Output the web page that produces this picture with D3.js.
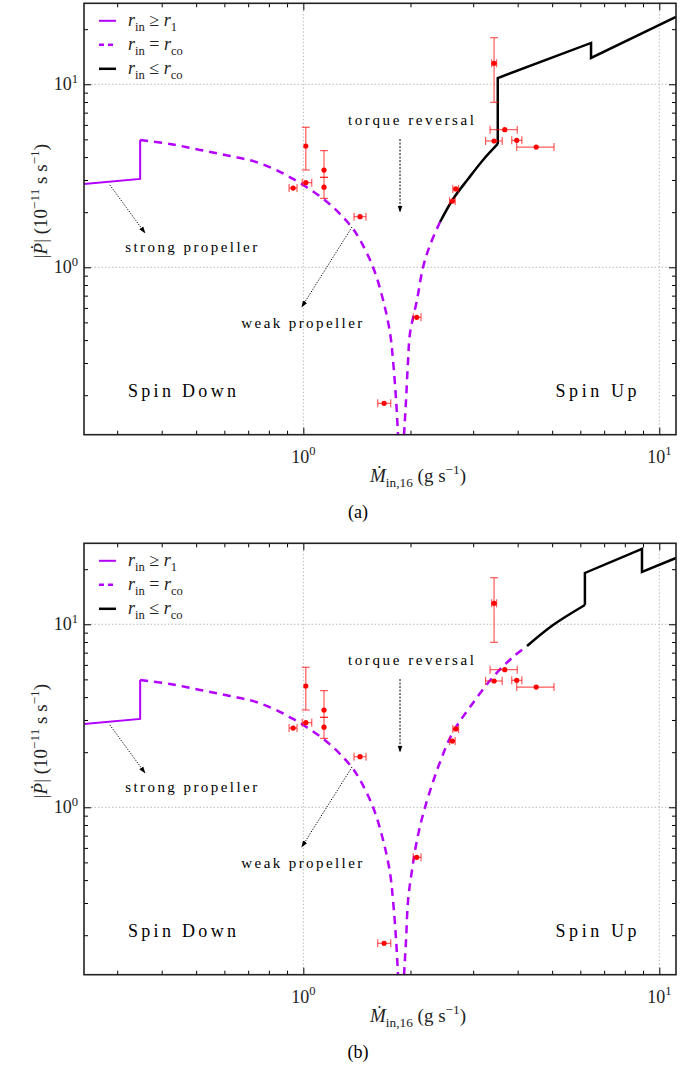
<!DOCTYPE html>
<html><head><meta charset="utf-8">
<script src="https://cdn.jsdelivr.net/npm/d3@7"></script>
<style>body{margin:0;background:#fff}svg{display:block}
svg text{font-family:"Liberation Serif","Times New Roman",Tinos,"DejaVu Serif","Noto Serif",Times,serif;}</style>
</head><body><div id="chart"></div>
<script>
// ---------- data ----------
const xDomain = [0.242, 11.14];
const yDomain = [0.1217, 27.7];
const xMajor = [1, 10];
const yMajor = [1, 10];
const xMinor = [0.3,0.4,0.5,0.6,0.7,0.8,0.9,2,3,4,5,6,7,8,9];
const yMinor = [0.2,0.3,0.4,0.5,0.6,0.7,0.8,0.9,2,3,4,5,6,7,8,9,20];

// r_in >= r_1 (solid purple)
const strongM = [0.242, 0.348, 0.348];
const strongP = [2.85, 3.04, 4.96];
// r_in = r_co, left (spin-down) branch
const weakLM = [0.348,0.422,0.513,0.622,0.756,0.936,1.166,1.353,1.443,1.570,1.675,1.752,1.786,1.822,1.845];
const weakLP = [4.96,4.72,4.375,4.06,3.70,3.04,2.275,1.70,1.41,1.00,0.663,0.4375,0.311,0.188,0.121];
// panel (a): right branch + r_in <= r_co (smooth part, then stepped part)
const weakRM_a = [1.918,1.943,1.969,1.994,2.086,2.169,2.27,2.421];
const weakRP_a = [0.121,0.188,0.311,0.4375,0.663,1.0,1.324,1.768];
const upCurveM_a = [2.421,2.634,2.902,3.198,3.517];
const upCurveP_a = [1.768,2.361,3.037,3.858,4.718];
const upStepM_a = [3.517,3.517,6.43,6.43,11.14];
const upStepP_a = [4.718,10.82,16.82,13.92,23.33];
// panel (b)
const weakRM_b = [1.918,1.943,1.969,2.020,2.086,2.197,2.421,2.634,2.94,3.41,3.88,4.25];
const weakRP_b = [0.121,0.188,0.311,0.4544,0.663,1.0,1.768,2.58,3.53,5.15,6.62,7.61];
const upCurveM_b = [4.25,5.03,6.18];
const upCurveP_b = [7.61,9.91,12.75];
const upStepM_b = [6.18,6.18,8.94,8.94,11.14];
const upStepP_b = [12.75,19.07,25.8,19.31,23.03];

// observations
const obsM   = [0.936,1.016,1.016,1.143,1.143,1.443,1.686,2.082,2.68,2.622,3.434,3.434,3.68,3.976,4.51];
const obsP   = [2.71,2.90,4.60,3.40,2.74,1.89,0.1806,0.533,2.68,2.30,13.02,4.90,5.65,4.94,4.54];
const obsMlo = [0.912,0.993,1.016,1.143,1.143,1.388,1.618,2.037,2.63,2.575,3.38,3.25,3.346,3.85,3.976];
const obsMhi = [0.960,1.056,1.016,1.143,1.143,1.50,1.760,2.141,2.73,2.67,3.49,3.62,3.99,4.11,5.06];
const obsPlo = [2.71,2.90,3.40,3.10,2.38,1.89,0.1806,0.533,2.68,2.30,7.97,4.90,5.65,4.94,4.54];
const obsPhi = [2.71,2.90,5.82,4.34,3.10,1.89,0.1806,0.533,2.68,2.30,17.97,4.90,5.65,4.94,4.54];

// annotations (data coords)
const arrowTR = [[1.869,5.02],[1.869,2.01]];
const arrowSP = [[0.286,2.82],[0.359,1.54]];
const arrowWP = [[1.37,1.66],[0.99,0.607]];
const labels = [
  {t:"torque reversal", m:2.006, p:6.0, len:126, size:15},
  {t:"strong propeller", m:0.484, p:1.21, len:132, size:15},
  {t:"weak propeller", m:0.99, p:0.466, len:121, size:15},
  {t:"Spin Down", m:0.456, p:0.1956, len:108, size:18},
  {t:"Spin Up", m:6.64, p:0.1956, len:81, size:18}
];

// ---------- drawing ----------
const W = 691, H = 1068;
const PURPLE = "#b300ff";
const svg = d3.select("#chart").append("svg").attr("width", W).attr("height", H);

const defs = svg.append("defs");
defs.append("marker").attr("id","ah").attr("viewBox","0 0 10 10").attr("refX",9).attr("refY",5)
  .attr("markerWidth",7).attr("markerHeight",7).attr("orient","auto")
  .append("path").attr("d","M0,1.5 L10,5 L0,8.5 Z").attr("fill","#000");

function rich(text, parts, size) {
  let shift = 0;
  parts.forEach(p => {
    const ts = text.append("tspan").text(p.t);
    let target = 0, fs = size;
    if (p.sub) { target = size*0.3; fs = size*0.7; }
    if (p.sup) { target = -size*0.42; fs = size*0.7; }
    ts.attr("font-size", fs);
    if (target !== shift) { ts.attr("dy", target - shift); shift = target; }
    if (p.it) ts.attr("font-style","italic");
  });
}

const left = 84, pw = 592, ph = 431.4;

function drawPanel(top, weakRM, weakRP, cM, cP, sM, sP, caption) {
  const g = svg.append("g").attr("transform", `translate(${left},${top})`);
  const x = d3.scaleLog().domain(xDomain).range([0, pw]);
  const y = d3.scaleLog().domain(yDomain).range([ph, 0]);

  g.append("defs").append("clipPath").attr("id","clip"+caption)
    .append("rect").attr("width",pw).attr("height",ph);

  // grid
  g.selectAll(".gx").data(xMajor).join("line").attr("x1",d=>x(d)).attr("x2",d=>x(d))
    .attr("y1",0).attr("y2",ph).attr("stroke","#bbb").attr("stroke-width",1).attr("stroke-dasharray","1.5,2");
  g.selectAll(".gy").data(yMajor).join("line").attr("y1",d=>y(d)).attr("y2",d=>y(d))
    .attr("x1",0).attr("x2",pw).attr("stroke","#bbb").attr("stroke-width",1).attr("stroke-dasharray","1.5,2");

  const pl = g.append("g").attr("clip-path",`url(#clip${caption})`);
  const line = d3.line().x(d=>x(d[0])).y(d=>y(d[1]));
  const smooth = d3.line().x(d=>x(d[0])).y(d=>y(d[1])).curve(d3.curveCatmullRom.alpha(0.5));
  const zip = (a,b) => a.map((v,i)=>[v,b[i]]);

  pl.append("path").attr("d", line(zip(strongM,strongP))).attr("fill","none")
    .attr("stroke",PURPLE).attr("stroke-width",2);
  pl.append("path").attr("d", smooth(zip(weakLM,weakLP))).attr("fill","none")
    .attr("stroke",PURPLE).attr("stroke-width",2.5).attr("stroke-dasharray","8,6");
  pl.append("path").attr("d", smooth(zip(weakRM,weakRP))).attr("fill","none")
    .attr("stroke",PURPLE).attr("stroke-width",2.5).attr("stroke-dasharray","8,6");
  pl.append("path").attr("d", smooth(zip(cM,cP))).attr("fill","none")
    .attr("stroke","#000").attr("stroke-width",2.5);
  pl.append("path").attr("d", line(zip(sM,sP))).attr("fill","none")
    .attr("stroke","#000").attr("stroke-width",2.5).attr("stroke-linejoin","miter");

  // observations
  const eb = pl.append("g").attr("stroke","rgba(255,0,0,0.65)").attr("stroke-width",1.2);
  obsM.forEach((m,i) => {
    if (obsMhi[i] !== obsMlo[i]) {
      eb.append("line").attr("x1",x(obsMlo[i])).attr("x2",x(obsMhi[i])).attr("y1",y(obsP[i])).attr("y2",y(obsP[i]));
      [obsMlo[i],obsMhi[i]].forEach(v => eb.append("line").attr("x1",x(v)).attr("x2",x(v))
        .attr("y1",y(obsP[i])-4).attr("y2",y(obsP[i])+4));
    }
    if (obsPhi[i] !== obsPlo[i]) {
      eb.append("line").attr("y1",y(obsPlo[i])).attr("y2",y(obsPhi[i])).attr("x1",x(m)).attr("x2",x(m));
      [obsPlo[i],obsPhi[i]].forEach(v => eb.append("line").attr("y1",y(v)).attr("y2",y(v))
        .attr("x1",x(m)-4).attr("x2",x(m)+4));
    }
  });
  pl.selectAll(".pt").data(obsM).join("circle").attr("cx",d=>x(d)).attr("cy",(d,i)=>y(obsP[i]))
    .attr("r",2.6).attr("fill","#f00");

  // annotations
  [arrowTR, arrowSP, arrowWP].forEach((a,k) => {
    g.append("line").attr("x1",x(a[0][0])).attr("y1",y(a[0][1])).attr("x2",x(a[1][0])).attr("y2",y(a[1][1]))
      .attr("stroke","#000").attr("stroke-width",1).attr("stroke-dasharray", k===0 ? "2,1.5" : "1.2,1.5")
      .attr("marker-end","url(#ah)");
  });
  labels.forEach(l => {
    g.append("text").attr("x",x(l.m)).attr("y",y(l.p)).attr("text-anchor","middle")
      .attr("font-size",l.size).attr("textLength",l.len).attr("lengthAdjust","spacing")
      .attr("fill","#000").text(l.t);
  });

  // axes (inward ticks on all sides)
  const ax = (gen, sc, vals, size) => gen(sc).tickValues(vals).tickSize(size).tickFormat("");
  const mk = (tr, gen) => { const a = g.append("g").attr("transform",tr).call(gen);
    a.select(".domain").remove(); a.selectAll("line").attr("stroke","#000").attr("stroke-width",1); };
  mk(`translate(0,${ph})`, ax(d3.axisBottom, x, xMajor, -7));
  mk(`translate(0,${ph})`, ax(d3.axisBottom, x, xMinor, -4));
  mk(`translate(0,0)`, ax(d3.axisTop, x, xMajor, -7));
  mk(`translate(0,0)`, ax(d3.axisTop, x, xMinor, -4));
  mk(`translate(0,0)`, ax(d3.axisLeft, y, yMajor, -7));
  mk(`translate(0,0)`, ax(d3.axisLeft, y, yMinor, -4));
  mk(`translate(${pw},0)`, ax(d3.axisRight, y, yMajor, -7));
  mk(`translate(${pw},0)`, ax(d3.axisRight, y, yMinor, -4));

  g.append("rect").attr("width",pw).attr("height",ph).attr("fill","none")
    .attr("stroke","#222").attr("stroke-width",1.6);

  // tick labels
  xMajor.forEach(v => {
    const t = g.append("text").attr("x",x(v)).attr("y",ph+28).attr("text-anchor","middle").attr("fill","#222");
    rich(t, [{t:"10"},{t:String(Math.round(Math.log10(v))), sup:true}], 18);
  });
  yMajor.forEach(v => {
    const t = g.append("text").attr("x",-6).attr("y",y(v)+6).attr("text-anchor","end").attr("fill","#222");
    rich(t, [{t:"10"},{t:String(Math.round(Math.log10(v))), sup:true}], 18);
  });

  // axis titles
  const xt = g.append("text").attr("x",x(2.1)).attr("y",ph+47).attr("text-anchor","middle").attr("fill","#222");
  rich(xt, [{t:"Ṁ",it:true},{t:"in,16",sub:true},{t:" (g s"},{t:"−1",sup:true},{t:")"}], 19);
  const yt = g.append("text").attr("transform",`translate(-37,${y(2.3)}) rotate(-90)`)
    .attr("text-anchor","middle").attr("fill","#222");
  rich(yt, [{t:"|"},{t:"Ṗ",it:true},{t:"| (10"},{t:"−11",sup:true},{t:" s s"},{t:"−1",sup:true},{t:")"}], 19);

  // legend
  const leg = [
    {c:PURPLE, d:null, w:2, r:"1", op:"≥"},
    {c:PURPLE, d:"5,4", w:2.5, r:"co", op:"="},
    {c:"#000", d:null, w:2.5, r:"co", op:"≤"}
  ];
  leg.forEach((e,i) => {
    const yy = 17.5 + i*24;
    g.append("line").attr("x1",15).attr("x2",32).attr("y1",yy).attr("y2",yy)
      .attr("stroke",e.c).attr("stroke-width",e.w).attr("stroke-dasharray",e.d);
    const t = g.append("text").attr("x",44).attr("y",yy+5).attr("fill","#222");
    rich(t, [{t:"r",it:true},{t:"in",sub:true},{t:" "+e.op+" "},{t:"r",it:true},{t:e.r,sub:true}], 18);
  });

  svg.append("text").attr("x",358).attr("y",top+ph+83).attr("text-anchor","middle")
    .attr("font-size",18).attr("fill","#000").text(caption);
}

drawPanel(3.3, weakRM_a, weakRP_a, upCurveM_a, upCurveP_a, upStepM_a, upStepP_a, "(a)");
drawPanel(543.3, weakRM_b, weakRP_b, upCurveM_b, upCurveP_b, upStepM_b, upStepP_b, "(b)");
</script></body></html>
